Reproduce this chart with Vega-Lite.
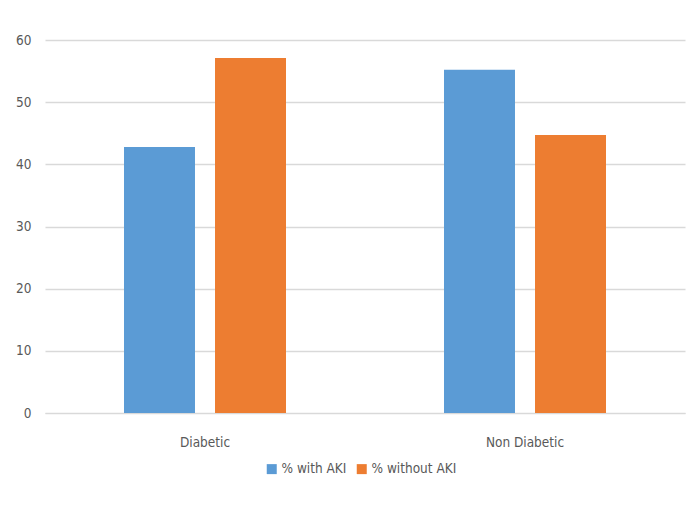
{
  "$schema": "https://vega.github.io/schema/vega-lite/v6.json",
  "width": 640,
  "height": 373,
  "padding": {"left": 45, "top": 40, "right": 6, "bottom": 116},
  "autosize": {"type": "none"},
  "background": "white",
  "data": {
    "values": [
      {"group": "Diabetic", "series": "% with AKI", "value": 42.8},
      {"group": "Diabetic", "series": "% without AKI", "value": 57.1},
      {"group": "Non Diabetic", "series": "% with AKI", "value": 55.2},
      {"group": "Non Diabetic", "series": "% without AKI", "value": 44.7}
    ]
  },
  "mark": {"type": "bar"},
  "encoding": {
    "x": {
      "field": "group", "type": "nominal",
      "scale": {"paddingInner": 0, "paddingOuter": 0},
      "axis": {"title": null, "labelAngle": 0, "ticks": false, "domainColor": "#d9d9d9", "labelPadding": 22}
    },
    "xOffset": {
      "field": "series", "type": "nominal",
      "scale": {"paddingInner": 0.22, "paddingOuter": 0.868}
    },
    "y": {
      "field": "value", "type": "quantitative",
      "scale": {"domain": [0, 60], "nice": false},
      "axis": {"title": null, "values": [0, 10, 20, 30, 40, 50, 60], "ticks": false, "domain": false, "gridColor": "#d9d9d9", "labelPadding": 14}
    },
    "color": {
      "field": "series", "type": "nominal",
      "scale": {"domain": ["% with AKI", "% without AKI"], "range": ["#5b9bd5", "#ed7d31"]},
      "legend": {"title": null, "orient": "none", "legendX": 220, "legendY": 422, "direction": "horizontal", "symbolType": "square", "symbolSize": 100, "columnPadding": 8, "labelOffset": 3}
    }
  },
  "config": {
    "view": {"stroke": null},
    "font": "DejaVu Sans Condensed",
    "axis": {"labelFont": "DejaVu Sans Condensed", "labelFontSize": 13.5, "labelColor": "#595959", "gridWidth": 1.5},
    "legend": {"labelFont": "DejaVu Sans Condensed", "labelFontSize": 13.5, "labelColor": "#595959", "symbolStrokeWidth": 0}
  }
}
